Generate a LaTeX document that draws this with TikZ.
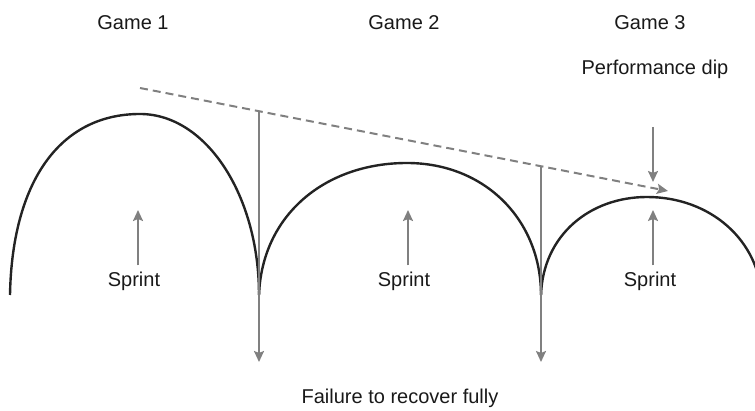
\documentclass[tikz,border=0pt]{standalone}
\usepackage{fontspec}
\setmainfont{Liberation Sans}
\usetikzlibrary{arrows.meta}
\definecolor{arrowgray}{RGB}{128,128,128}
\definecolor{curveblack}{RGB}{35,35,35}
\begin{document}
\begin{tikzpicture}[x=1pt,y=-1pt,
  label/.style={anchor=base,inner sep=0pt,font=\fontsize{20}{24}\selectfont,text=black!90},
  curve/.style={draw=curveblack,line width=2.4pt},
  garrow/.style={draw=arrowgray,line width=2pt,-{Stealth[length=11pt,width=10pt,inset=2pt]}},
  trend/.style={garrow,dash pattern=on 8pt off 5pt}]
\useasboundingbox (0,0) rectangle (755,411);
\begin{scope}
\clip (0,0) rectangle (755,411);

% titles
\node[label] (g1) at (133,29.5) {Game 1};
\node[label] (g2) at (404,29.5) {Game 2};
\node[label] (g3) at (650,29.5) {Game 3};
\node[label] (dip) at (655,75) {Performance dip};
\node[label] (fail) at (400,404) {Failure to recover fully};

% key points of the performance curve
\coordinate (s0) at (10,295);
\coordinate (p1) at (140,114);
\coordinate (c1) at (259,295);
\coordinate (p2) at (407,163);
\coordinate (c2) at (541,295);
\coordinate (p3) at (647,197);
\coordinate (e3) at (762,300);

% three arches
\draw[curve] (s0) .. controls (12,183) and (59,114) .. (p1)
  .. controls (206,114) and (259,195) .. (c1);
\draw[curve] (c1) .. controls (262,215) and (325,163) .. (p2)
  .. controls (485,163) and (541,220) .. (c2);
\draw[curve] (c2) .. controls (543,235) and (590,197) .. (p3)
  .. controls (710,197) and (760,240) .. (e3);

% declining trend
\coordinate (t0) at (140,88);
\coordinate (t1) at (668,191);
\draw[trend] (t0) -- (t1);

% recovery gaps
\coordinate (d1top) at (259,111.2);
\coordinate (d1bot) at (259,362);
\coordinate (d2top) at (541,166.2);
\coordinate (d2bot) at (541,362);
\draw[garrow] (d1top) -- (d1bot);
\draw[garrow] (d2top) -- (d2bot);

% sprint labels with arrows
\node[label] (sp1) at (134,287) {Sprint};
\node[label] (sp2) at (404,287) {Sprint};
\node[label] (sp3) at (650,287) {Sprint};
\coordinate (a1) at (138,210);
\coordinate (a2) at (408,210);
\coordinate (a3) at (653,210);
\draw[garrow] (sp1.north -| a1) ++(0,-7) -- (a1);
\draw[garrow] (sp2.north -| a2) ++(0,-7) -- (a2);
\draw[garrow] (sp3.north -| a3) ++(0,-7) -- (a3);

% performance dip marker
\coordinate (dtop) at (653,127);
\coordinate (dbot) at (653,182);
\draw[garrow] (dtop) -- (dbot);
\end{scope}
\end{tikzpicture}
\end{document}
